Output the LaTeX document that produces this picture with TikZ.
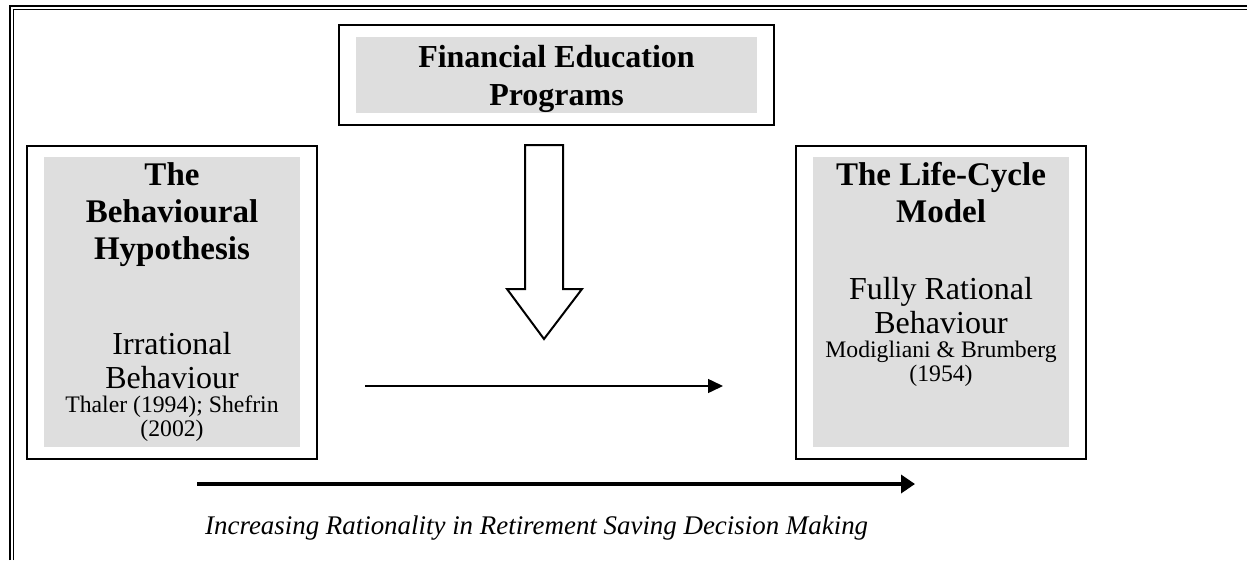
\documentclass[tikz,border=0pt]{standalone}
\usepackage{fontspec}
\setmainfont{Liberation Serif}
\usetikzlibrary{arrows.meta,fit}
\definecolor{panelgray}{HTML}{DEDEDE}
\newcommand{\headfont}{\fontsize{33}{37}\selectfont\bfseries\spaceskip=.25em\xspaceskip=.25em\relax}
\newcommand{\bodyfont}{\fontsize{32}{34}\selectfont\spaceskip=.25em\xspaceskip=.25em\relax}
\newcommand{\citefont}{\fontsize{23.7}{24}\selectfont\spaceskip=.25em\xspaceskip=.25em\relax}

\begin{document}
\begin{tikzpicture}[x=1pt,y=-1pt,
  panel/.style={fill=panelgray,inner sep=0pt,align=center,text width=256pt,
    text height=28pt,text depth=262pt,anchor=north},
  frame/.style={draw,line width=2pt,inner xsep=17pt,inner ysep=11.5pt},
  flow/.style={line width=1.5pt,-{Triangle[length=15pt,width=14pt]}},
  trend/.style={line width=4pt,-{Triangle[length=14pt,width=18pt]}}
]
\useasboundingbox (0,0) rectangle (1247,560);
% double rule on the top and left edges
\draw[line width=2pt] (10,560) -- (10,6) -- (1247,6);
\draw[line width=1.4pt] (13.7,560) -- (13.7,9.7) -- (1247,9.7);

\node[fill=panelgray,minimum width=401pt,minimum height=75pt,inner sep=0pt,align=center,
  font=\fontsize{32}{38}\selectfont\bfseries] (edu) at (556.5,75)
  {\rule{0pt}{31pt}Financial Education\\Programs};
\node[frame,fit=(edu)] (edubox) {};

\node[panel] (behav) at (172,157) {{\headfont The\\ Behavioural\\ Hypothesis\par}\vspace{61pt}
  {\bodyfont Irrational\\ Behaviour\par}
  {\citefont Thaler (1994); Shefrin\\ (2002)\par}};
\node[frame,fit=(behav)] (behavbox) {};

\node[panel] (lcm) at (941,157) {{\headfont The Life-Cycle\\ Model\par}\vspace{43pt}
  {\bodyfont Fully Rational\\ Behaviour\par}
  {\citefont Modigliani \& Brumberg\\ (1954)\par}};
\node[frame,fit=(lcm)] (lcmbox) {};

% hollow block arrow under the programs box
\draw[line width=2pt,line join=miter] (525,145) -- (563,145) -- (563,289) -- (582,289)
  -- (544,339) -- (507,289) -- (525,289) -- cycle;

\coordinate (flowstart) at (365,386);
\coordinate (flowend) at (723,386);
\draw[flow] (flowstart) -- (flowend);

\coordinate (trendstart) at (197,484);
\coordinate (trendend) at (915,484);
\draw[trend] (trendstart) -- (trendend);
\node[anchor=base west,inner sep=0pt,font=\fontsize{26.9}{30}\selectfont\itshape] (trendlbl)
  at (205,534) {Increasing Rationality in Retirement Saving Decision Making};
\end{tikzpicture}
\end{document}
